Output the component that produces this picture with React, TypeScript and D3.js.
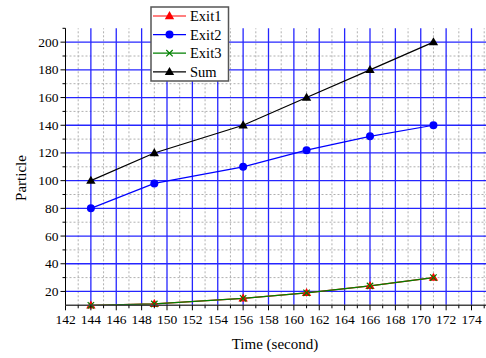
import React, { useEffect } from "react";
import * as d3 from "d3";

// Particle counts per exit over time
const times = [144, 149, 156, 161, 166, 171];
const exit1 = [10, 11, 15, 19, 24, 30];
const exit2 = [80, 98, 110, 122, 132, 140];
const exit3 = [10, 11, 15, 19, 24, 30];
const sum = [100, 120, 140, 160, 180, 200];

const xMajorTicks = d3.range(142, 175, 2);
const xMinorTicks = d3.range(143, 176, 2);
const yMajorTicks = d3.range(20, 201, 20);
const yMinorTicks = d3.range(30, 211, 20);

type Marker = "triangle" | "circle" | "cross";
const series: { name: string; values: number[]; color: string; marker: Marker }[] = [
  { name: "Exit1", values: exit1, color: "#ff0000", marker: "triangle" },
  { name: "Exit2", values: exit2, color: "#0000ff", marker: "circle" },
  { name: "Exit3", values: exit3, color: "#008000", marker: "cross" },
  { name: "Sum", values: sum, color: "#000000", marker: "triangle" },
];

const W = 486;
const H = 358;
const FONT = "'Liberation Serif', 'Times New Roman', serif";

const x = d3.scaleLinear().domain([142, 174]).range([65.5, 471.5]);
const y = d3.scaleLinear().domain([10, 210]).range([305.3, 28.3]);

function MarkerShape({ type, cx, cy, color }: { type: Marker; cx: number; cy: number; color: string }) {
  if (type === "circle") return <circle cx={cx} cy={cy} r={4} fill={color} />;
  if (type === "triangle") {
    const p = d3.symbol().type(d3.symbolTriangle).size(38)();
    return <path d={p || ""} transform={`translate(${cx},${cy + 0.5})`} fill={color} />;
  }
  const s = 3.2;
  return (
    <path
      d={`M${cx - s},${cy - s}L${cx + s},${cy + s}M${cx - s},${cy + s}L${cx + s},${cy - s}`}
      stroke={color}
      strokeWidth={1.2}
      fill="none"
    />
  );
}

export default function App() {
  useEffect(() => {
    document.body.style.margin = "0";
  }, []);

  const line = d3
    .line<number>()
    .x((_, i) => x(times[i]))
    .y((v) => y(v));

  const [bottom, top] = y.range();
  const left = x.range()[0];
  const right = W;

  return (
    <svg width={W} height={H} style={{ position: "absolute", left: 0, top: 0, background: "#fff" }} fontFamily={FONT}>
      {/* minor grid */}
      <g stroke="#b0b0b0" strokeWidth={1} strokeDasharray="2,2">
        {xMinorTicks.map((t) => (
          <line key={"xm" + t} x1={x(t)} x2={x(t)} y1={bottom} y2={top} />
        ))}
        {yMinorTicks.slice(0, -1).map((t) => (
          <line key={"ym" + t} x1={left} x2={right} y1={y(t)} y2={y(t)} />
        ))}
      </g>
      {/* major grid */}
      <g stroke="#0000ff" strokeWidth={1.3} opacity={0.85}>
        {xMajorTicks.slice(1).map((t) => (
          <line key={"xg" + t} x1={x(t)} x2={x(t)} y1={bottom} y2={top} />
        ))}
        {yMajorTicks.map((t) => (
          <line key={"yg" + t} x1={left} x2={right} y1={y(t)} y2={y(t)} />
        ))}
      </g>

      {/* series lines */}
      {series.map((s) => (
        <path key={s.name} d={line(s.values) || ""} fill="none" stroke={s.color} strokeWidth={1.2} />
      ))}
      {series.map((s) =>
        s.values.map((v, i) => (
          <MarkerShape key={s.name + i} type={s.marker} cx={x(times[i])} cy={y(v)} color={s.color} />
        ))
      )}

      {/* axes */}
      <g stroke="#000" strokeWidth={1}>
        <line x1={left} x2={left} y1={top} y2={bottom} />
        <line x1={left} x2={right} y1={bottom} y2={bottom} stroke="#444" strokeWidth={1.6} />
        {xMajorTicks.map((t) => (
          <line key={"xt" + t} x1={x(t)} x2={x(t)} y1={bottom} y2={bottom + 5} />
        ))}
        {xMinorTicks.map((t) => (
          <line key={"xmt" + t} x1={x(t)} x2={x(t)} y1={bottom} y2={bottom + 3} />
        ))}
        {yMajorTicks.map((t) => (
          <line key={"yt" + t} x1={left} x2={left - 5} y1={y(t)} y2={y(t)} />
        ))}
        {yMinorTicks.map((t) => (
          <line key={"ymt" + t} x1={left} x2={left - 3} y1={y(t)} y2={y(t)} />
        ))}
      </g>
      <g fontSize={13.5} fill="#000">
        {xMajorTicks.map((t) => (
          <text key={"xl" + t} x={x(t)} y={bottom + 19} textAnchor="middle">
            {t}
          </text>
        ))}
        {yMajorTicks.map((t) => (
          <text key={"yl" + t} x={left - 7} y={y(t) + 4.5} textAnchor="end">
            {t}
          </text>
        ))}
      </g>
      <text x={275} y={349} textAnchor="middle" fontSize={15}>
        Time (second)
      </text>
      <text transform="translate(26,178) rotate(-90)" textAnchor="middle" fontSize={15}>
        Particle
      </text>

      {/* legend */}
      <g>
        <rect x={151} y={7} width={77.5} height={74} fill="#fff" stroke="#555" strokeWidth={1.5} />
        {series.map((s, i) => {
          const ry = 16 + i * 18.6;
          return (
            <g key={"lg" + s.name}>
              <line x1={153} x2={186} y1={ry} y2={ry} stroke={s.color} strokeWidth={1.2} />
              <MarkerShape type={s.marker} cx={169.5} cy={ry} color={s.color} />
              <text x={190} y={ry + 5} fontSize={14.5}>
                {s.name}
              </text>
            </g>
          );
        })}
      </g>
    </svg>
  );
}
